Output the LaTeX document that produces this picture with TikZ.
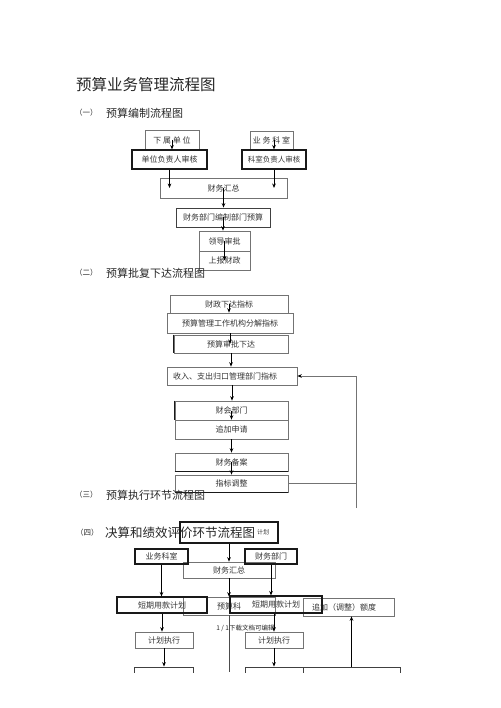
\documentclass[tikz,border=0pt]{standalone}
\usepackage{fontspec}
\setmainfont{Noto Sans CJK SC}
\usetikzlibrary{arrows.meta}
\newcommand{\fsz}[1]{\fontsize{#1}{#1}\selectfont}
\begin{document}
\begin{tikzpicture}[x=1pt,y=-1pt,
  wh/.style 2 args={minimum width=#1pt, minimum height=#2pt},
  box/.style={draw=black!55, line width=0.6pt, inner sep=0pt, text=black!80, font=\fsz{8}},
  tbox/.style={box, draw=black!90, line width=1.1pt},
  arr/.style={-{Stealth[length=4.5pt,width=3.6pt]}, line width=0.8pt, black},
  ln/.style={line width=0.8pt, black!55},
  hdn/.style={anchor=west, inner sep=0pt, text=black!85, font=\fsz{7.5}},
  hd/.style={anchor=west, inner sep=0pt, text=black!85, font=\fsz{11}}]
\useasboundingbox (0,0) rectangle (500,708);
\begin{scope}
\clip (0,0) rectangle (500,672);

% title
\node[anchor=west, inner sep=0pt, text=black!85, font=\fsz{15.5}] (title) at (76,85) {预算业务管理流程图};

% ---------- section 1 ----------
\node[hdn] (h1a) at (75,113) {（一）};
\node[hd] (h1b) at (106,113) {预算编制流程图};

\node[box, wh={54}{19}] (n11) at (172,140) {下 属 单 位};
\node[tbox, wh={75}{19}] (n12) at (169.5,159.5) {单位负责人审核};
\node[box, wh={43}{18}] (n13) at (271.5,140) {业 务 科 室};
\node[tbox, wh={64}{19}, font=\fsz{7.5}] (n14) at (274,159.5) {科室负责人审核};
\node[box, wh={127}{20}] (n15) at (223.5,188) {财务汇总};
\node[box, draw=black!75, line width=0.8pt, wh={94}{19}] (n16) at (223,217.5) {财务部门编制部门预算};
\node[box, wh={51}{20}] (n17) at (224.5,241) {领导审批};
\node[box, wh={51}{19}] (n18) at (224.5,260.5) {上报财政};

\draw[arr] (n11.center) -- (n11.center |- n12.north);
\draw[arr] (n13.center -| n14.south) -- (n14.north);
\draw[arr] (n12.south) -- (n12.south |- n15.center);
\draw[arr] (n14.south) -- (n14.south |- n15.center);
\draw[arr] (n15.center) -- (n15.center |- n16.north);
\draw[arr] (n16.center) -- (n16.center |- n17.north);
\draw[arr] (n17.center) -- (n17.center |- n18.center);

% ---------- section 2 ----------
\node[hdn] (h2a) at (75,273) {（二）};
\node[hd] (h2b) at (106,273) {预算批复下达流程图};

\node[box, wh={118}{18}] (n21) at (229,304) {财政下达指标};
\node[box, wh={126}{20}] (n22) at (230,323) {预算管理工作机构分解指标};
\node[box, wh={114}{18}] (n23) at (231,344) {预算审批下达};
\node[box, wh={130}{18}, text width=118pt, inner xsep=6pt, align=left] (n24) at (232,376) {收入、支出归口管理部门指标};
\node[box, wh={113}{19}] (n25) at (231.5,410.5) {财会部门};
\node[box, wh={113}{19}] (n26) at (231.5,429.5) {追加申请};
\node[box, wh={113}{18}] (n27) at (231.5,462) {财务备案};
\node[box, wh={113}{17}] (n28) at (231.5,483.5) {指标调整};
\draw[black!90, line width=1.1pt] (n23.north west) -- (n23.south west);
\draw[black!90, line width=1.1pt] (n25.north west) -- (n25.south west);
\draw[black!90, line width=1.1pt] (n27.south west) -- (n27.south east);
\draw[black!90, line width=1.1pt] (n28.south west) -- (n28.south east);

\draw[arr] (n21.center) -- (n21.center |- n22.north);
\draw[arr] (n22.south) -- (n22.south |- n23.center);
\draw[arr] (n23.south) -- (n23.south |- n24.north);
\draw[arr] (n24.south) -- (n24.south |- n25.north);
\draw[arr] (n25.center) -- (n25.center |- n26.north);
\draw[arr] (n26.south) -- (n26.south |- n27.north);
\draw[arr] (n27.center) -- (n27.center |- n28.north);

\coordinate (fb) at (356,508);
\draw[ln] (n28.east) -- (n28.east -| fb);
\draw[ln, -{Stealth[length=4.5pt,width=3.6pt,black]}] (fb) -- (fb |- n24.east) -- (n24.east);

% ---------- section 3 ----------
\node[hdn] (h3a) at (75,495) {（三）};
\node[hd] (h3b) at (106,495) {预算执行环节流程图};

% ---------- section 4 ----------
\node[tbox, wh={98}{21}, font=\fsz{6}, text width=80pt, inner xsep=9pt, align=right] (n40) at (229,532.5) {计划};
\node[hdn] (h4a) at (76,533) {（四）};
\node[hd, font=\fsz{12.5}] (h4b) at (105,533) {决算和绩效评价环节流程图};

\node[box, wh={92}{16}] (n43) at (229,570) {财务汇总};
\node[tbox, wh={53}{15}] (n41) at (161.5,556.5) {业务科室};
\node[tbox, wh={52}{15}] (n42) at (271,556.5) {财务部门};

\node[box, wh={92}{18}] (n44) at (229,606) {预算科};
\node[tbox, wh={90}{16}] (n45) at (162,605) {短期用款计划};
\node[box, wh={91}{18}, text width=73pt, inner xsep=9pt, align=left] (n47) at (348.5,607) {追加（调整）额度};
\node[tbox, wh={92}{17}] (n46) at (276,604.5) {短期用款计划};

\node[inner sep=0pt, text=black!85, font=\fsz{6.5}] (ft) at (245.5,628) {1 / 1下载文档可编辑};

\node[box, wh={58}{16}] (n48) at (164,640) {计划执行};
\node[box, wh={58}{16}] (n49) at (274,640) {计划执行};

\node[box, draw=black!75, line width=0.8pt, wh={59}{20}] (n50) at (163.5,677) {};
\node[box, draw=black!75, line width=0.8pt, wh={58}{20}] (n51) at (274,677) {};
\node[box, draw=black!75, line width=0.8pt, wh={97}{20}] (n52) at (351.5,677) {};
\coordinate (c1) at (229,672);

\draw[arr] (n40.south) -- (n43.north);
\draw[arr] (n41.south) -- (n41.south |- n45.north);
\draw[arr] (n42.south) -- (n42.south |- n46.north);
\draw[arr] (n43.south) -- (n44.north);
\draw[ln, black!70] (n44.south) -- (c1);
\draw[arr] (n45.south) -- (n45.south |- n48.north);
\draw[arr] (n49.north |- n46.south) -- (n49.north);
\draw[arr] (n48.south) -- (n48.south |- n50.north);
\draw[arr] (n49.south) -- (n51.north);
\draw[arr] (n52.north) -- (n52.north |- n47.south);
\end{scope}
\end{tikzpicture}
\end{document}
